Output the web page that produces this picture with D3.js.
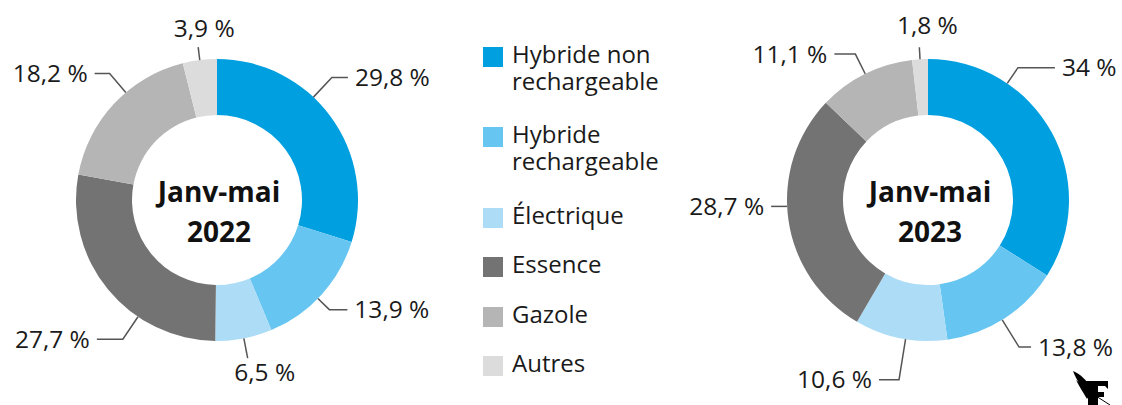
<!DOCTYPE html>
<html>
<head>
<meta charset="utf-8">
<script src="https://cdn.jsdelivr.net/npm/d3@7"></script>
<style>
  body { margin: 0; background: #fff; }
  svg { display: block; font-family: "Open Sans", "Noto Sans", sans-serif; }
  .pct { font-size: 24.5px; fill: #1a1a1a; }
  .leg { font-size: 24px; fill: #1a1a1a; }
  .title { font-size: 28px; font-weight: 700; fill: #111; }
  .leader { fill: none; stroke: #555; stroke-width: 1.5; }
</style>
</head>
<body>
<div class="container"></div>
<script>
const WIDTH = 1122,
    HEIGHT = 405,
    R_OUT = 141,
    R_IN = 85;

// data
const categories = ['Hybride non rechargeable', 'Hybride rechargeable', 'Électrique', 'Essence', 'Gazole', 'Autres'];
const legendLines = [['Hybride non', 'rechargeable'], ['Hybride', 'rechargeable'], ['Électrique'], ['Essence'], ['Gazole'], ['Autres']];
const values2022 = [29.8, 13.9, 6.5, 27.7, 18.2, 3.9];
const values2023 = [34, 13.8, 10.6, 28.7, 11.1, 1.8];
const labels2022 = ['29,8 %', '13,9 %', '6,5 %', '27,7 %', '18,2 %', '3,9 %'];
const labels2023 = ['34 %', '13,8 %', '10,6 %', '28,7 %', '11,1 %', '1,8 %'];
const colors = ['#009fe0', '#66c6f1', '#acdcf6', '#737373', '#b5b5b5', '#dcdcdc'];

// leader line layout (nudge in degrees, radial length, horizontal tail, label offsets)
const leaders2022 = [
    { nudge: -10.5, len: 27, tail: 16 },
    { nudge: 2, len: 16, tail: 18 },
    { nudge: 0, len: 20, tail: 0, dx: 17, dy: 6 },
    { nudge: -16.5, len: 27, tail: -26 },
    { nudge: 6.5, len: 25, tail: -15 },
    { nudge: 0, len: 13, tail: 0, dx: 6, dy: -10 }
];
const leaders2023 = [
    { nudge: -27, len: 19, tail: 37 },
    { nudge: 1, len: 32, tail: 12 },
    { nudge: -2, len: 41, tail: -20 },
    { nudge: 5.5, len: 0, tail: -16 },
    { nudge: 0, len: 22, tail: -21 },
    { nudge: 0, len: 12, tail: 0, dx: 8, dy: -13 }
];

var translate = (x, y) => "translate(" + x + "," + y + ")";

var svg = d3.select('.container').append('svg')
    .attr('width', WIDTH)
    .attr('height', HEIGHT);

var pie = d3.pie().sort(null).value(d => d);
var arc = d3.arc().innerRadius(R_IN).outerRadius(R_OUT);

var polar = (a, r) => [r * Math.sin(a), -r * Math.cos(a)];

var drawDonut = (cx, cy, values, labels, leaders, year) => {
    var g = svg.append('g').attr('transform', translate(cx, cy));

    g.selectAll('path.slice')
        .data(pie(values))
        .enter()
        .append('path')
        .classed('slice', true)
        .attr('d', arc)
        .attr('fill', (d, i) => colors[i]);

    pie(values).forEach((d, i) => {
        var L = leaders[i];
        var a = (d.startAngle + d.endAngle) / 2 + L.nudge * Math.PI / 180;
        var p0 = polar(a, R_OUT),
            p1 = polar(a, R_OUT + L.len),
            p2 = [p1[0] + L.tail, p1[1]];
        g.append('path')
            .classed('leader', true)
            .attr('d', d3.line()([p0, p1, p2]));
        var t = g.append('text').classed('pct', true).text(labels[i]);
        if (L.tail !== 0) {
            t.attr('x', p2[0] + (L.tail > 0 ? 7 : -7))
                .attr('y', p2[1])
                .attr('dy', '0.35em')
                .attr('text-anchor', L.tail > 0 ? 'start' : 'end');
        } else {
            t.attr('x', p1[0] + L.dx)
                .attr('y', p1[1] + L.dy)
                .attr('dy', L.dy > 0 ? '0.7em' : 0)
                .attr('text-anchor', 'middle');
        }
    });

    g.append('text').classed('title', true)
        .attr('text-anchor', 'middle')
        .attr('x', 2).attr('y', 2)
        .text('Janv-mai');
    g.append('text').classed('title', true)
        .attr('text-anchor', 'middle')
        .attr('x', 2).attr('y', 42)
        .text(year);
};

drawDonut(217, 200, values2022, labels2022, leaders2022, '2022');
drawDonut(928, 200, values2023, labels2023, leaders2023, '2023');

// legend
var legY = [57, 137, 218, 267, 317, 366];
var leg = svg.append('g').attr('transform', translate(483, 0));
categories.forEach((c, i) => {
    leg.append('rect')
        .attr('x', 0).attr('y', legY[i] - 10)
        .attr('width', 20).attr('height', 20)
        .attr('fill', colors[i]);
    legendLines[i].forEach((line, j) => {
        leg.append('text').classed('leg', true)
            .attr('x', 29)
            .attr('y', legY[i] - 2 + j * 27)
            .attr('dy', '0.35em')
            .text(line);
    });
});

// logo
var logo = svg.append('g').attr('transform', translate(1072, 368)).attr('fill', '#000');
logo.append('path').attr('d', 'M1,3 C8,6 15,12 19,20 L24,26 L19,30 C12,22 5,14 1,3 Z');
logo.append('path').attr('d', 'M4,12 C10,16 14,22 17,28 L15,31 C11,24 7,18 4,12 Z');
logo.append('path').attr('d', 'M11,13 L36,13 L36,21 L33,18 L26,18 L26,24 L32,24 L32,29 L26,29 L26,37 L16,37 L16,18 L11,18 Z');
logo.append('line').attr('x1', 24).attr('y1', 28).attr('x2', 38).attr('y2', 37)
    .attr('stroke', '#000').attr('stroke-width', 1);
</script>
</body>
</html>
